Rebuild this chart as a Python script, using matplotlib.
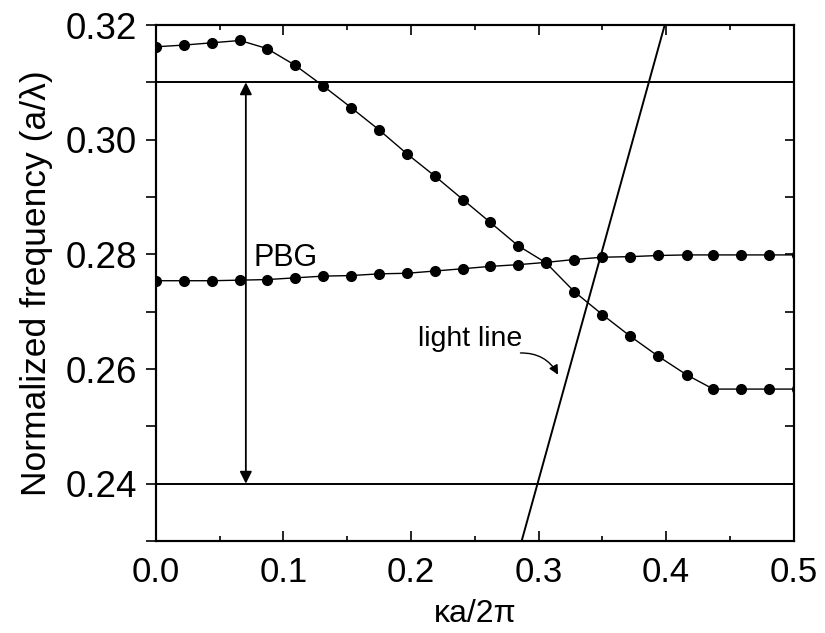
import matplotlib
matplotlib.use("Agg")
import matplotlib.pyplot as plt
from matplotlib.ticker import MultipleLocator, FormatStrFormatter

plt.rcParams['font.family'] = ['Liberation Sans', 'DejaVu Sans']

# wave vector ka/2pi of the computed points
k = [0.000, 0.022, 0.044, 0.066, 0.087, 0.109, 0.131, 0.153, 0.175, 0.197,
     0.219, 0.241, 0.262, 0.284, 0.306, 0.328, 0.350, 0.372, 0.394, 0.416,
     0.437, 0.459, 0.481, 0.503]

# upper band (a/lambda)
band_up = [0.3162, 0.3165, 0.3169, 0.3173, 0.3159, 0.3130, 0.3094, 0.3056,
           0.3017, 0.2975, 0.2936, 0.2895, 0.2856, 0.2815, 0.2785, 0.2735,
           0.2695, 0.2657, 0.2622, 0.2590, 0.2565, 0.2565, 0.2565, 0.2565]

# lower band (a/lambda)
band_lo = [0.2754, 0.2754, 0.2754, 0.2755, 0.2756, 0.2759, 0.2762, 0.2763,
           0.2766, 0.2767, 0.2771, 0.2775, 0.2779, 0.2782, 0.2786, 0.2791,
           0.2795, 0.2796, 0.2798, 0.2799, 0.2799, 0.2799, 0.2799, 0.2799]

# light line end points
light_k = [0.280, 0.410]
light_f = [0.2246, 0.3289]

gap_top = 0.31
gap_bot = 0.24
gap_x = 0.0705

fig = plt.figure(figsize=(8.25, 6.33), dpi=100)
ax = fig.add_axes([0.189, 0.1453, 0.773, 0.8152])

ax.axhline(gap_top, color='black', lw=1.4)
ax.axhline(gap_bot, color='black', lw=1.4)

ax.plot(k, band_up, '-o', color='black', lw=1.0, ms=7)
ax.plot(k, band_lo, '-o', color='black', lw=1.0, ms=7)
ax.plot(light_k, light_f, '-', color='black', lw=1.4)

# band gap arrow
ax.annotate('', xy=(gap_x, gap_top), xytext=(gap_x, gap_bot),
            arrowprops=dict(arrowstyle='<|-|>', color='black', lw=1.3,
                            mutation_scale=18, shrinkA=0, shrinkB=0))
ax.text(0.0768, 0.2780, 'PBG', fontsize=22, ha='left', va='baseline')

ax.text(0.2055, 0.2641, 'light line', fontsize=20.5, ha='left', va='baseline')
ax.annotate('', xy=(0.3153, 0.2590), xytext=(0.2858, 0.2628),
            arrowprops=dict(arrowstyle='-|>', color='black', lw=1.0,
                            mutation_scale=14, shrinkA=0, shrinkB=0,
                            connectionstyle='arc3,rad=-0.3'))

ax.set_xlim(0, 0.5)
ax.set_ylim(0.23, 0.32)
ax.xaxis.set_major_locator(MultipleLocator(0.1))
ax.xaxis.set_minor_locator(MultipleLocator(0.05))
ax.yaxis.set_major_locator(MultipleLocator(0.02))
ax.yaxis.set_minor_locator(MultipleLocator(0.01))
ax.xaxis.set_major_formatter(FormatStrFormatter('%.1f'))
ax.yaxis.set_major_formatter(FormatStrFormatter('%.2f'))

ax.tick_params(axis='x', which='both', direction='in', top=True, bottom=True,
               labelsize=25, pad=11, width=1.2)
ax.tick_params(axis='x', which='major', length=7.2)
ax.tick_params(axis='x', which='minor', length=3.6)
ax.tick_params(axis='y', which='both', direction='out', left=True, right=False,
               labelsize=26.5, pad=6.5, width=1.2, length=7.2)

# right side ticks point inward
ax2 = ax.twinx()
ax2.set_ylim(ax.get_ylim())
ax2.yaxis.set_major_locator(MultipleLocator(0.01))
ax2.tick_params(axis='y', direction='in', length=6.5, width=1.2, labelright=False)

for a in (ax, ax2):
    for s in a.spines.values():
        s.set_linewidth(1.5)

ax.set_xlabel('\u03baa/2\u03c0', fontsize=23, labelpad=7)
ax.set_ylabel('Normalized frequency (a/\u03bb)', fontsize=25.5, labelpad=9)

fig.savefig('out.png', dpi=100)
